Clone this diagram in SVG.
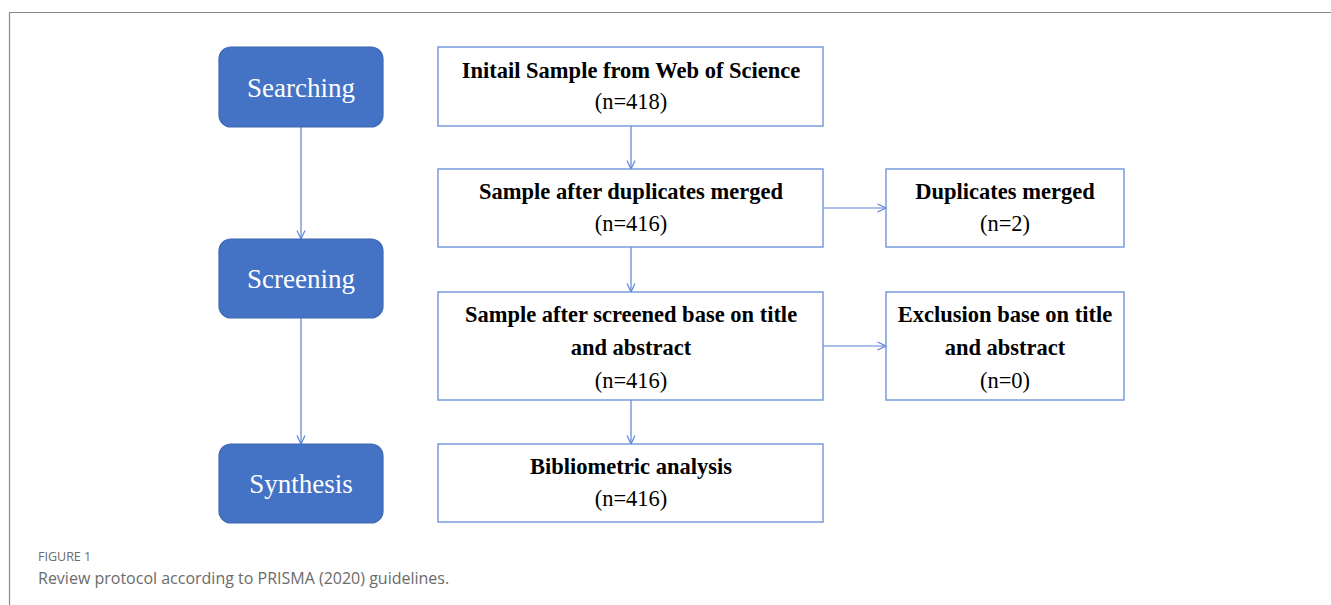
<svg xmlns="http://www.w3.org/2000/svg" width="1331" height="605" viewBox="0 0 1331 605">
<style>
.stage rect{fill:#4472C4;stroke:#3F67B0;stroke-width:1.2}
.stage text{font-family:"Liberation Serif",serif;font-size:27px;fill:#fff;text-anchor:middle}
.box rect{fill:#fff;stroke:#6F94DC;stroke-width:1.4}
.box text{font-family:"Liberation Serif",serif;font-size:22.5px;fill:#000;text-anchor:middle}
.box .b{font-weight:bold}
.conn line{stroke:#5B84D6;stroke-width:1.2;fill:none}
.cap{font-family:"Open Sans","Noto Sans",sans-serif;fill:#6b6b6b}
</style>
<defs>
<marker id="arr" viewBox="0 0 10 10" refX="9.5" refY="5" markerWidth="10" markerHeight="10" markerUnits="userSpaceOnUse" orient="auto">
<path d="M1,1 L9.5,5 L1,9" fill="none" stroke="#5B84D6" stroke-width="1.2"/>
</marker>
</defs>
<rect x="0" y="0" width="1331" height="605" fill="#fff"/>
<path d="M9.5,605 V12.5 H1331" fill="none" stroke="#8a8a8a" stroke-width="1.2"/>
<g class="conn">
<line x1="301" y1="127" x2="301" y2="239" marker-end="url(#arr)"/>
<line x1="301" y1="318" x2="301" y2="444" marker-end="url(#arr)"/>
<line x1="631" y1="126" x2="631" y2="169" marker-end="url(#arr)"/>
<line x1="631" y1="247" x2="631" y2="292" marker-end="url(#arr)"/>
<line x1="631" y1="400" x2="631" y2="444" marker-end="url(#arr)"/>
<line x1="823" y1="208" x2="886" y2="208" marker-end="url(#arr)"/>
<line x1="823" y1="346" x2="886" y2="346" marker-end="url(#arr)"/>
</g>
<g id="searching" class="stage"><rect x="219" y="47" width="164" height="80" rx="12"/><text x="301" y="97">Searching</text></g>
<g id="screening" class="stage"><rect x="219" y="239" width="164" height="79" rx="12"/><text x="301" y="288">Screening</text></g>
<g id="synthesis" class="stage"><rect x="219" y="444" width="164" height="79" rx="12"/><text x="301" y="493">Synthesis</text></g>
<g id="initial" class="box"><rect x="438" y="47" width="385" height="79"/><text class="b" x="631" y="78">Initail Sample from Web of Science</text><text x="631" y="109">(n=418)</text></g>
<g id="dedup" class="box"><rect x="438" y="169" width="385" height="78"/><text class="b" x="631" y="199">Sample after duplicates merged</text><text x="631" y="231">(n=416)</text></g>
<g id="dupes" class="box"><rect x="886" y="169" width="238" height="78"/><text class="b" x="1005" y="199">Duplicates merged</text><text x="1005" y="231">(n=2)</text></g>
<g id="screened" class="box"><rect x="438" y="292" width="385" height="108"/><text class="b" x="631" y="322">Sample after screened base on title</text><text class="b" x="631" y="355">and abstract</text><text x="631" y="388">(n=416)</text></g>
<g id="exclusion" class="box"><rect x="886" y="292" width="238" height="108"/><text class="b" x="1005" y="322">Exclusion base on title</text><text class="b" x="1005" y="355">and abstract</text><text x="1005" y="388">(n=0)</text></g>
<g id="biblio" class="box"><rect x="438" y="444" width="385" height="78"/><text class="b" x="631" y="474">Bibliometric analysis</text><text x="631" y="506">(n=416)</text></g>
<text class="cap" x="38" y="561" font-size="12.5">FIGURE 1</text>
<text class="cap" x="38" y="584" font-size="16">Review protocol according to PRISMA (2020) guidelines.</text>
</svg>
